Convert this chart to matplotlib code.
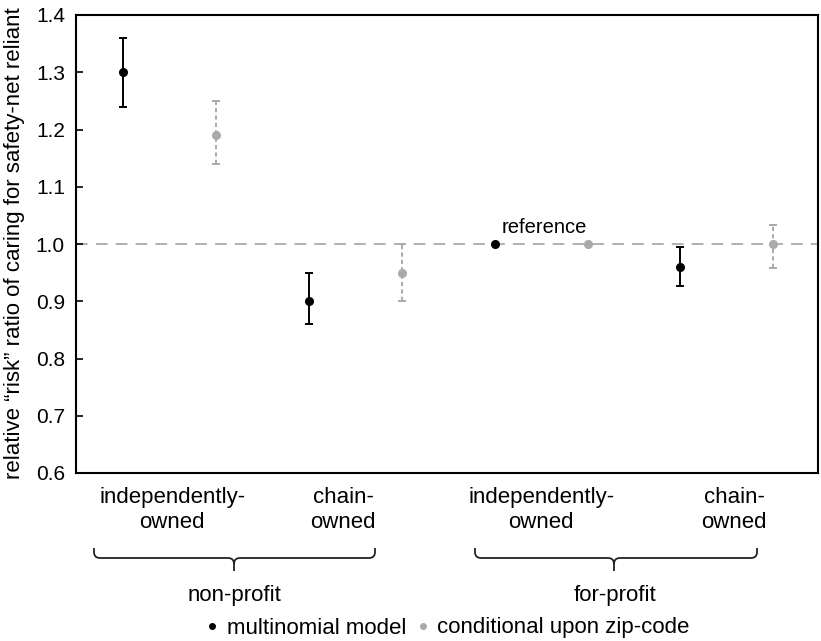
import matplotlib.pyplot as plt
import numpy as np
from matplotlib.lines import Line2D
from matplotlib.path import Path
from matplotlib.patches import PathPatch
from matplotlib.transforms import blended_transform_factory

plt.rcParams['font.family'] = ['Liberation Sans', 'DejaVu Sans']

# estimates (nan = reference category, no interval)
x_multi = [1, 3, 5, 7]
multi = [1.30, 0.90, 1.00, 0.96]
multi_lo = [1.24, 0.86, np.nan, 0.927]
multi_hi = [1.36, 0.95, np.nan, 0.994]

x_zip = [2, 4, 6, 8]
zipc = [1.19, 0.95, 1.00, 1.00]
zip_lo = [1.14, 0.90, np.nan, 0.958]
zip_hi = [1.25, 1.00, np.nan, 1.033]

cat_labels = ['independently-\nowned', 'chain-\nowned', 'independently-\nowned', 'chain-\nowned']
cat_x = [1.53, 3.37, 5.50, 7.58]
group_labels = ['non-profit', 'for-profit']
yticks = [0.6, 0.7, 0.8, 0.9, 1.0, 1.1, 1.2, 1.3, 1.4]

GRAY = '#aaaaaa'
W, H = 821, 641


def fx(px):
    return px / W


def fy(py):
    return 1 - py / H


def draw_series(ax, xs, ys, lo, hi, color, dashed):
    xs = np.array(xs, float)
    ys = np.array(ys, float)
    lo = np.array(lo, float)
    hi = np.array(hi, float)
    ok = ~np.isnan(lo)
    err = np.vstack([ys[ok] - lo[ok], hi[ok] - ys[ok]])
    _, caps, bars = ax.errorbar(xs[ok], ys[ok], yerr=err, fmt='none', ecolor=color,
                                elinewidth=1.4, capsize=3, capthick=1.4, zorder=3)
    if dashed:
        for b in bars:
            b.set_linestyle((0, (2.2, 1.6)))
    ax.plot(xs, ys, 'o', color=color, ms=5.5, zorder=4)


def brace(fig, x0, x1, xt, ytop, ymid, ybot, r=6):
    verts = [(x0, ytop), (x0, ymid - r), (x0, ymid), (x0 + r, ymid),
             (xt - r, ymid), (xt, ymid), (xt, ymid + r), (xt, ybot),
             (xt, ymid + r), (xt, ymid), (xt + r, ymid),
             (x1 - r, ymid), (x1, ymid), (x1, ymid - r), (x1, ytop)]
    codes = [Path.MOVETO, Path.LINETO, Path.CURVE3, Path.CURVE3,
             Path.LINETO, Path.CURVE3, Path.CURVE3, Path.LINETO,
             Path.MOVETO, Path.CURVE3, Path.CURVE3,
             Path.LINETO, Path.CURVE3, Path.CURVE3, Path.LINETO]
    verts = [(fx(a), fy(b)) for a, b in verts]
    patch = PathPatch(Path(verts, codes), fill=False, lw=1.3, edgecolor='#222222',
                      transform=fig.transFigure)
    fig.add_artist(patch)


fig = plt.figure(figsize=(8.21, 6.41), dpi=100)
ax = fig.add_axes([fx(76), fy(473), fx(818) - fx(76), fy(15) - fy(473)])

ax.axhline(1.0, color=GRAY, lw=1.3, dashes=(6.5, 4.5), zorder=1)
draw_series(ax, x_multi, multi, multi_lo, multi_hi, 'black', False)
draw_series(ax, x_zip, zipc, zip_lo, zip_hi, GRAY, True)

ax.text(5.08, 1.012, 'reference', fontsize=14.5, ha='left', va='bottom')

ax.set_xlim(0.495, 8.48)
ax.set_ylim(0.6, 1.4)
ax.set_xticks([])
ax.set_yticks(yticks)
ax.set_yticklabels([f'{v:.1f}' for v in yticks], fontsize=15)
ax.tick_params(axis='y', direction='in', length=5, width=1.2, pad=8)
for s in ax.spines.values():
    s.set_linewidth(1.5)

fig.text(fx(15), fy(243), 'relative \u201crisk\u201d ratio of caring for safety-net reliant',
         rotation=90, ha='center', va='center', fontsize=16)

trans = blended_transform_factory(ax.transData, fig.transFigure)
for xc, lab in zip(cat_x, cat_labels):
    ax.text(xc, fy(510), lab, transform=trans, ha='center', va='center',
            fontsize=16, linespacing=1.2)

brace(fig, 94, 375, 234, 548, 558, 571)
brace(fig, 475, 757, 614, 548, 558, 571)
fig.text(fx(234), fy(595), group_labels[0], ha='center', va='center', fontsize=16)
fig.text(fx(615), fy(595), group_labels[1], ha='center', va='center', fontsize=16)

handles = [Line2D([], [], ls='none', marker='o', ms=4, color='black'),
           Line2D([], [], ls='none', marker='o', ms=4, color=GRAY)]
fig.legend(handles, ['multinomial model', 'conditional upon zip-code'],
           loc='center', bbox_to_anchor=(fx(448), fy(628)), ncol=2, frameon=False,
           fontsize=16, handlelength=0.5, handletextpad=0.4, columnspacing=0.5,
           borderpad=0, borderaxespad=0)

fig.savefig('out.png', dpi=100)
